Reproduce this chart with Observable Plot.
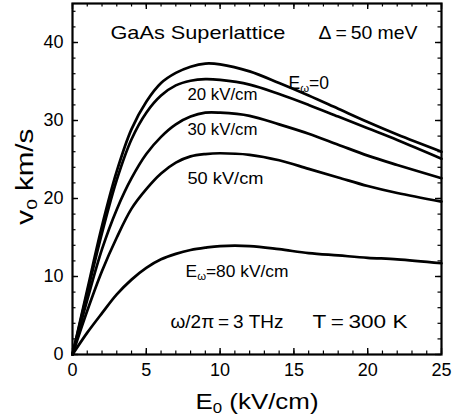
<!DOCTYPE html>
<html><head><meta charset="utf-8">
<script src="https://cdn.jsdelivr.net/npm/d3@7"></script>
<script src="https://cdn.jsdelivr.net/npm/@observablehq/plot@0.6"></script>
<style>html,body{margin:0;padding:0;background:#fff;}</style>
</head><body><div id="chart"></div>
<script>
// ---- data ----
const fieldE0 = [0, 1, 2, 3, 4, 5, 6, 7, 8, 9, 10, 12, 14, 16, 18, 20, 22, 25]; // kV/cm
const vEw0  = [0, 8.3, 16.5, 23.5, 28.9, 32.4, 34.8, 36.1, 36.9, 37.3, 37.2, 36.3, 34.8, 33.2, 31.5, 29.8, 28.2, 26.0];
const vEw20 = [0, 7.9, 15.6, 22.4, 27.6, 31.0, 33.2, 34.5, 35.1, 35.3, 35.2, 34.6, 33.4, 32.0, 30.5, 29.0, 27.5, 25.1];
const vEw30 = [0, 7.0, 13.5, 18.6, 22.6, 25.7, 27.9, 29.5, 30.5, 31.0, 31.0, 30.6, 29.5, 28.3, 26.9, 25.5, 24.3, 22.6];
const vEw50 = [0, 5.6, 10.7, 15.0, 18.7, 21.2, 23.2, 24.6, 25.4, 25.7, 25.8, 25.6, 24.9, 23.8, 22.7, 21.6, 20.7, 19.6];
const vEw80 = [0, 2.8, 5.3, 7.7, 9.6, 11.1, 12.2, 12.9, 13.4, 13.7, 13.9, 13.9, 13.5, 13.0, 12.7, 12.4, 12.2, 11.7];
const seriesNames = ["Eω=0", "20 kV/cm", "30 kV/cm", "50 kV/cm", "Eω=80 kV/cm"];
const seriesValues = [vEw0, vEw20, vEw30, vEw50, vEw80];

const xTickLabels = [0, 5, 10, 15, 20, 25];
const yTickLabels = [0, 10, 20, 30, 40];
const xMinorTicks = [0,1,2,3,4,5,6,7,8,9,10,11,12,13,14,15,16,17,18,19,20,21,22,23,24,25];
const yMinorTicks = [0,2,4,6,8,10,12,14,16,18,20,22,24,26,28,30,32,34,36,38,40,42,44];

// annotation texts and their anchor in data coordinates (E, v)
const annoText = ["GaAs Superlattice", "Δ\u2009=\u200950 meV", "E_ω=0", "20 kV/cm", "30 kV/cm", "50 kV/cm",
                  "E_ω=80 kV/cm", "ω/2π\u2009=\u20093 THz", "T\u2009=\u2009300 K"];
const annoE = [2.57, 16.67, 14.63, 7.79, 7.79, 7.79, 7.66, 6.64, 16.26];
const annoV = [40.42, 40.42, 34.1, 32.69, 28.14, 21.92, 9.94, 3.40, 3.40];

// ---- build table ----
const rows = seriesNames.flatMap((s, i) => fieldE0.map((e, j) => ({series: s, E: e, v: seriesValues[i][j]})));
const annos = annoText.map((t, i) => ({text: t, E: annoE[i], v: annoV[i]}));

// ---- layout / style ----
const W = 454, H = 419, mL = 72, mR = 13, mT = 3, mB = 65;
const fw = W - mL - mR, fh = H - mT - mB;
const majorLen = 6, minorLen = 3.5;
const annoSize = [18.5, 18.5, 17.5, 16, 16, 16.5, 16.5, 18.5, 19];
const annoWidth = [175, 99, null, 70, 70, 76, 103, 113, 95];

const ink = "#000";
const plot = Plot.plot({
  width: W, height: H,
  marginLeft: mL, marginRight: mR, marginTop: mT, marginBottom: mB,
  style: {fontFamily: "'Liberation Sans', Arial, Helvetica, sans-serif", background: "#fff", color: ink, fontSize: "18px"},
  x: {domain: [0, 25]},
  y: {domain: [0, 45]},
  marks: [
    // minor ticks (inward) on all four sides
    Plot.tickX(xMinorTicks, {x: d => d, insetTop: fh - minorLen, stroke: ink, strokeWidth: 1.2}),
    Plot.tickX(xMinorTicks, {x: d => d, insetBottom: fh - minorLen, stroke: ink, strokeWidth: 1.2}),
    Plot.tickY(yMinorTicks, {y: d => d, insetRight: fw - minorLen, stroke: ink, strokeWidth: 1.2}),
    Plot.tickY(yMinorTicks, {y: d => d, insetLeft: fw - minorLen, stroke: ink, strokeWidth: 1.2}),
    // major ticks
    Plot.tickX(xTickLabels, {x: d => d, insetTop: fh - majorLen, stroke: ink, strokeWidth: 1.4}),
    Plot.tickX(xTickLabels, {x: d => d, insetBottom: fh - majorLen, stroke: ink, strokeWidth: 1.4}),
    Plot.tickY(yTickLabels, {y: d => d, insetRight: fw - majorLen, stroke: ink, strokeWidth: 1.4}),
    Plot.tickY(yTickLabels, {y: d => d, insetLeft: fw - majorLen, stroke: ink, strokeWidth: 1.4}),
    // curves
    Plot.line(rows, {x: "E", y: "v", z: "series", stroke: ink, strokeWidth: 2.7, curve: "catmull-rom"}),
    Plot.frame({stroke: ink, strokeWidth: 2.2}),
    // axes
    Plot.axisX(xTickLabels, {tickSize: 0, tickPadding: 9, fontSize: 18, label: null}),
    Plot.axisY(yTickLabels, {tickSize: 0, tickPadding: 9, fontSize: 18, label: null}),
    // axis titles
    Plot.text(["E_0 (kV/cm)"], {frameAnchor: "bottom", dy: 54, lineAnchor: "bottom", fontSize: 22, fill: ink, className: "xtitle"}),
    Plot.text(["v_0 km/s"], {x: 0, y: 22.8, dx: -47, rotate: -90, fontSize: 23, fill: ink, className: "ytitle"}),
    // annotations
    Plot.text(annos, {x: "E", y: "v", text: "text", textAnchor: "start", lineAnchor: "bottom",
                      fontSize: (d, i) => annoSize[i], fill: ink, className: "anno"})
  ]
});

// subscripts: "X_y" -> X with subscript y; optional fixed text lengths
function subscripts(node, width) {
  const txt = node.textContent;
  if (txt.includes("_")) {
    const parts = txt.split(/_(.)/);
    node.textContent = "";
    const ns = "http://www.w3.org/2000/svg";
    parts.forEach((p, k) => {
      if (!p) return;
      const t = document.createElementNS(ns, "tspan");
      t.textContent = p;
      if (k % 2 === 1) { t.setAttribute("font-size", "65%"); t.setAttribute("dy", "0.3em"); }
      else if (k > 0) { t.setAttribute("dy", "-0.195em"); }
      node.appendChild(t);
    });
  }
  if (width) { node.setAttribute("textLength", width); node.setAttribute("lengthAdjust", "spacingAndGlyphs"); }
}
d3.select(plot).selectAll("g.anno text").each(function(d, i) { subscripts(this, annoWidth[i]); });
d3.select(plot).selectAll("g.xtitle text").each(function() { subscripts(this, 123); });
d3.select(plot).selectAll("g.ytitle text").each(function() { subscripts(this, 96); });

document.getElementById("chart").appendChild(plot);
</script>
</body></html>
